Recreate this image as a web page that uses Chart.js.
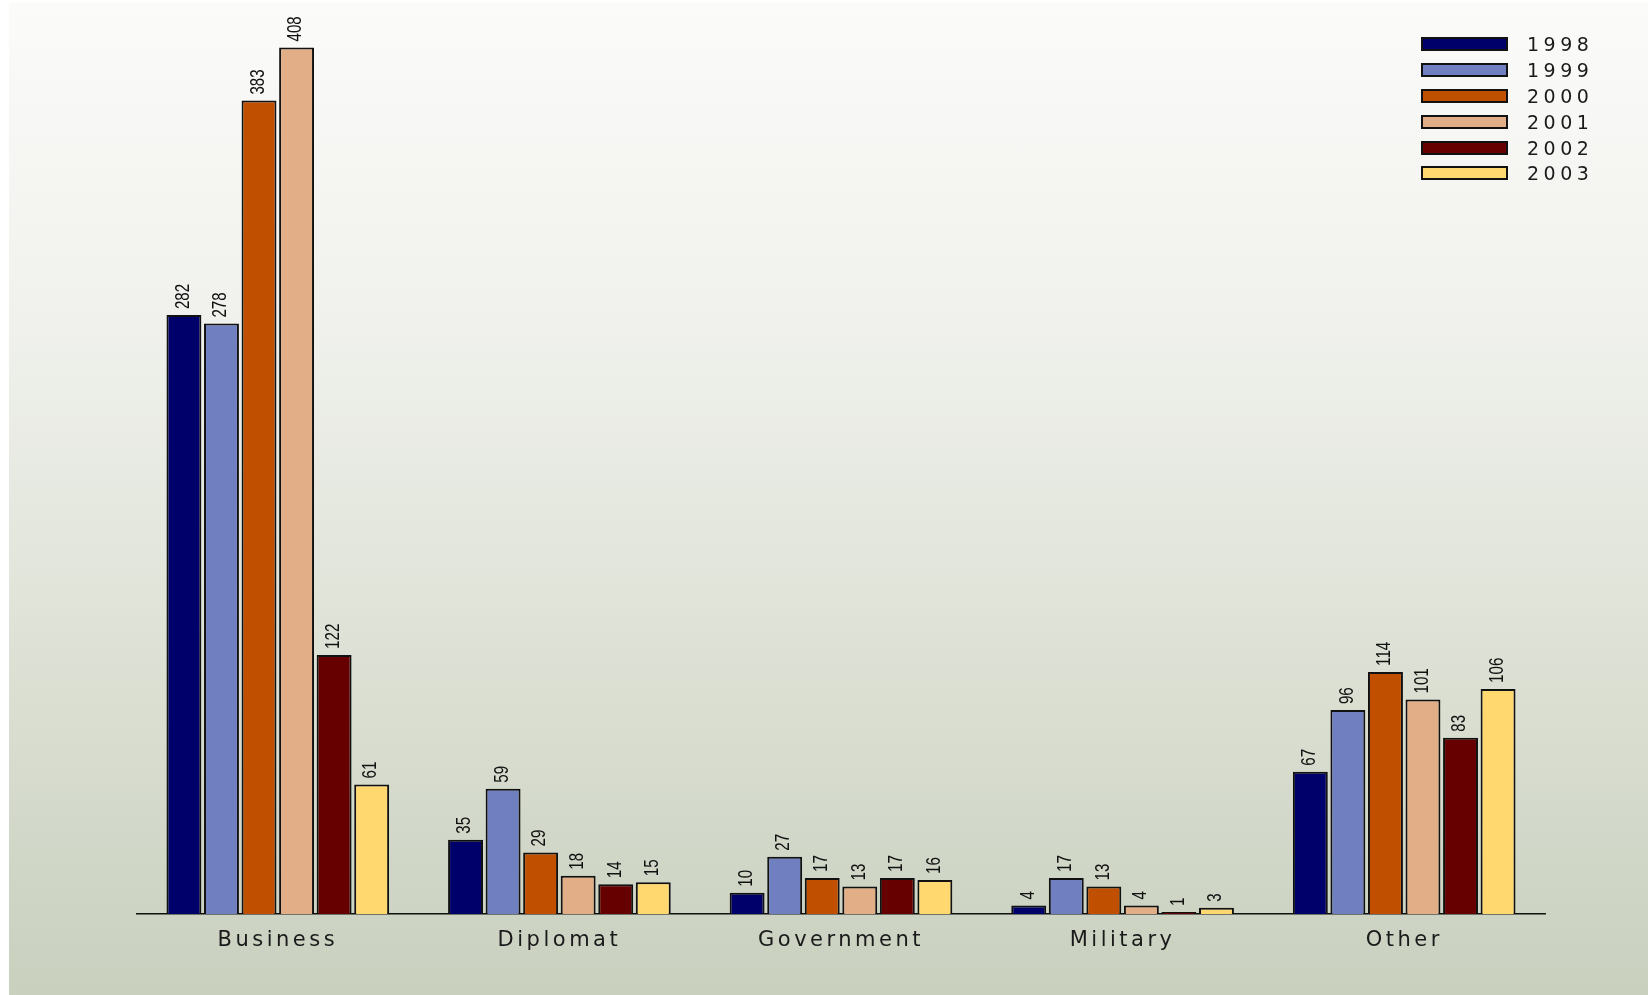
<!DOCTYPE html>
<html>
<head>
<meta charset="utf-8">
<script src="https://cdn.jsdelivr.net/npm/chart.js@4"></script>
<style>
body { margin: 0; background: #fff; width: 1648px; height: 995px; overflow: hidden; position: relative; font-family: "DejaVu Sans", sans-serif; }
#panel { position: absolute; left: 9px; top: 3px; right: 0; bottom: 0;
  background: linear-gradient(to bottom, #fbfbf9 0%, #f1f2ee 30%, #e0e4d9 60%, #c9d0be 100%); }
#wrap { position: absolute; left: 0; top: 0; width: 1648px; height: 995px; }
#legend { position: absolute; left: 1421px; top: 31px; }
.item { display: flex; align-items: center; height: 25.9px; }
.box { width: 83px; height: 10px; border: 2px solid #111; }
.lbl { margin-left: 19px; font-size: 19px; letter-spacing: 4.5px; color: #1a1a1a; }
</style>
</head>
<body>
<div id="panel"></div>
<div id="wrap"><canvas id="visaChart" width="1648" height="995"></canvas></div>
<div id="legend"></div>
<script>
// categories and series
const categories = ["Business", "Diplomat", "Government", "Military", "Other"];
const years = ["1998", "1999", "2000", "2001", "2002", "2003"];
const colors = ["#00006b", "#6f7fc0", "#c05000", "#e2ae88", "#660000", "#ffd870"];

const v1998 = [282, 35, 10, 4, 67];
const v1999 = [278, 59, 27, 17, 96];
const v2000 = [383, 29, 17, 13, 114];
const v2001 = [408, 18, 13, 4, 101];
const v2002 = [122, 14, 17, 1, 83];
const v2003 = [61, 15, 16, 3, 106];
const series = [v1998, v1999, v2000, v2001, v2002, v2003];

// html legend
const legend = document.getElementById('legend');
years.forEach((y, i) => {
    const row = document.createElement('div');
    row.className = 'item';
    row.innerHTML = '<div class="box" style="background:' + colors[i] + '"></div><span class="lbl">' + y + '</span>';
    legend.appendChild(row);
});

// wide tracking for the axis labels, value labels drawn rotated on top of the bars
const labelPlugin = {
    id: 'labelPlugin',
    beforeDraw(chart) {
        chart.ctx.letterSpacing = '3.5px';
    },
    afterDatasetsDraw(chart) {
        const ctx = chart.ctx;
        ctx.save();
        ctx.letterSpacing = '0px';
        ctx.fillStyle = '#111';
        ctx.font = '21px "Liberation Sans", Arial, sans-serif';
        ctx.textAlign = 'left';
        ctx.textBaseline = 'middle';
        chart.data.datasets.forEach((ds, i) => {
            const meta = chart.getDatasetMeta(i);
            meta.data.forEach((bar, j) => {
                ctx.save();
                ctx.translate(bar.x - 1, bar.y - 6);
                ctx.rotate(-Math.PI / 2);
                ctx.scale(0.72, 1);
                ctx.fillText(String(ds.data[j]), 0, 0);
                ctx.restore();
            });
        });
        ctx.restore();
        chart.ctx.letterSpacing = '0px';
    }
};

const ctx = document.getElementById('visaChart').getContext('2d');

const config = {
    type: 'bar',
    data: {
        labels: categories,
        datasets: years.map((y, i) => ({
            label: y,
            data: series[i],
            backgroundColor: colors[i],
            borderColor: '#111',
            borderWidth: 2,
            categoryPercentage: 0.8,
            barPercentage: 0.93
        }))
    },
    options: {
        responsive: false,
        animation: false,
        layout: { padding: { left: 137, right: 103, top: 22, bottom: 0 } },
        scales: {
            x: {
                grid: { display: false },
                border: { display: true, color: '#111', width: 1.5 },
                ticks: {
                    color: '#1a1a1a',
                    padding: 6,
                    font: { family: '"DejaVu Sans", sans-serif', size: 21 }
                },
                afterFit(scale) { scale.height = 81; }
            },
            y: {
                display: false,
                min: 0,
                max: 420
            }
        },
        plugins: {
            legend: { display: false },
            tooltip: { enabled: false }
        }
    },
    plugins: [labelPlugin]
};

const visaChart = new Chart(ctx, config);
</script>
</body>
</html>
